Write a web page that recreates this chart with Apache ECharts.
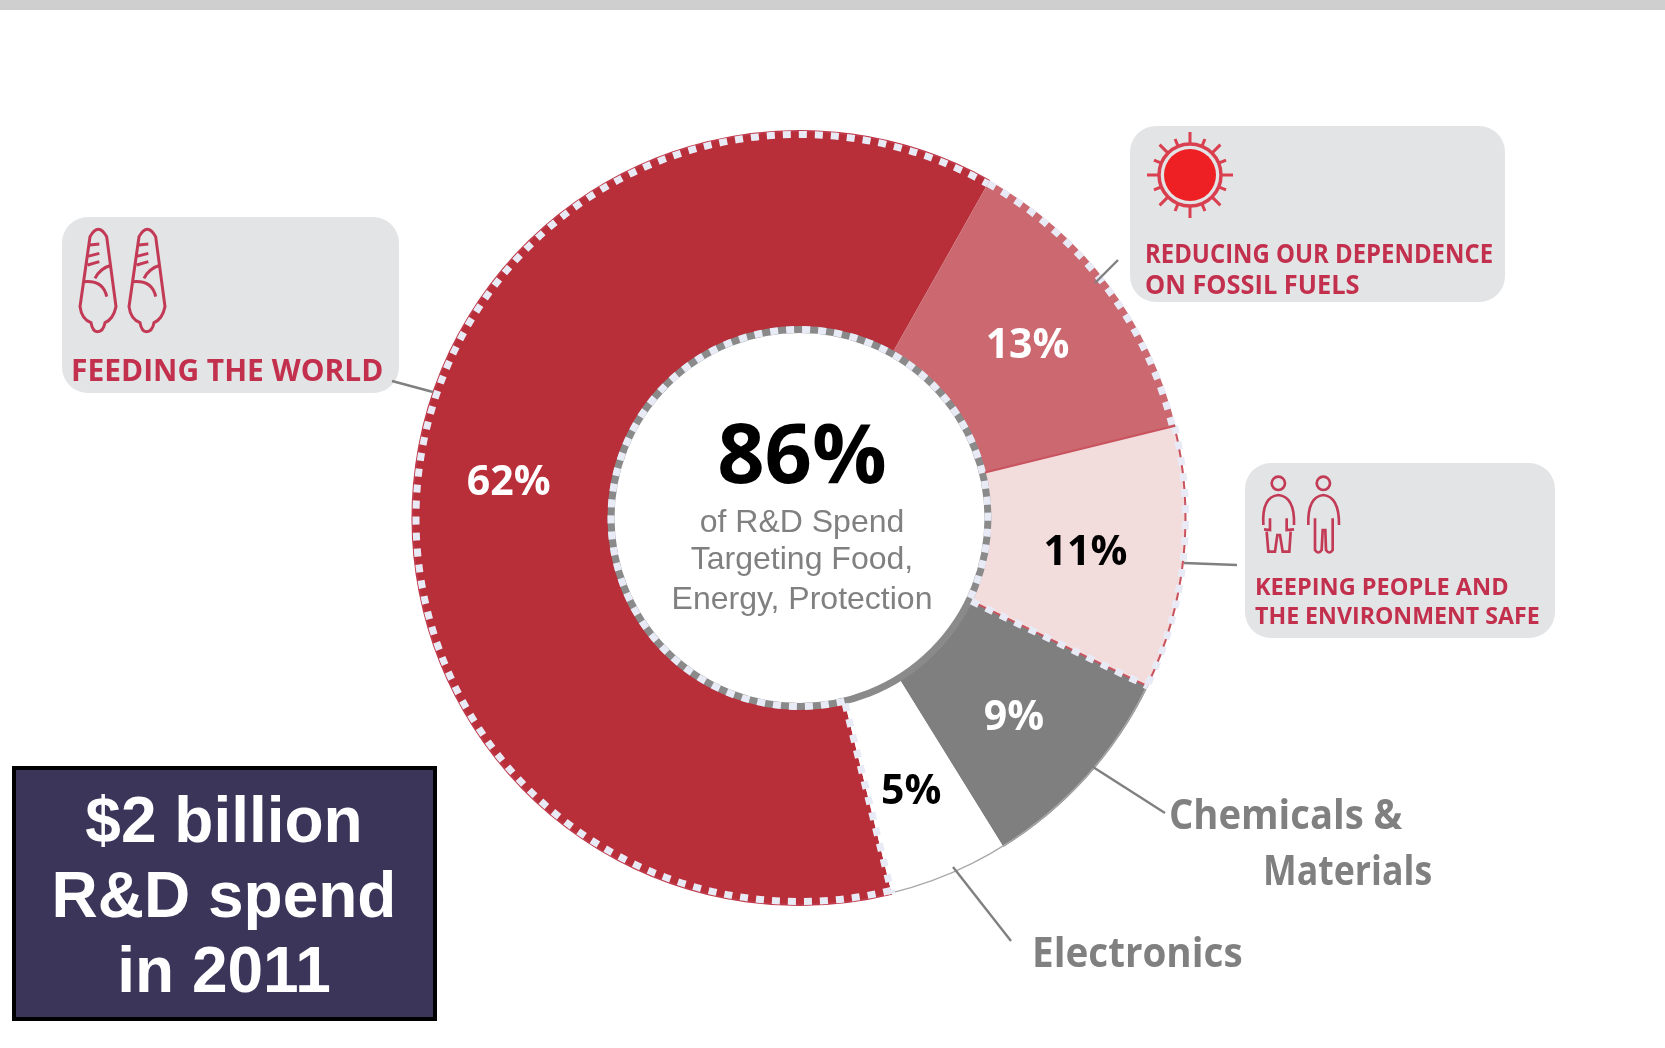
<!DOCTYPE html>
<html><head><meta charset="utf-8">
<script src="https://cdn.jsdelivr.net/npm/echarts@6/dist/echarts.min.js"></script>
<style>html,body{margin:0;padding:0;background:#fff}#c{width:1665px;height:1048px}</style>
</head><body><div id="c"></div>
<script>
const categories = ['Feeding the World','Reducing Our Dependence on Fossil Fuels','Keeping People and the Environment Safe','Chemicals & Materials','Electronics'];
const values = [62,13,11,9,5];
const sliceColors = ['#b82f3a','#cb6870','#f2dcdc','#7f7f7f','#ffffff'];
const labelColors = ['#ffffff','#ffffff','#000000','#ffffff','#000000'];
const labelShiftX = [-1.5,-4.5,-4.5,-2.5,-1.5];
const centerBig = '86%';
const centerLines = ['of R&D Spend','Targeting Food,','Energy, Protection'];
const boxLines = ['$2 billion','R&D spend','in 2011'];

const CX=799.5, CY=518, R0=191, R1=387, START=166.2;
const RED='#c2304d', LAV='#e8ebf6', GREY='#808080';
const bounds=[START]; values.forEach(v=>bounds.push(bounds[bounds.length-1]+v*3.6));
const rad=a=>(a-90)*Math.PI/180;
const pt=(a,r)=>[CX+r*Math.cos(rad(a)),CY+r*Math.sin(rad(a))];
const Z=20;
function arc(r,a,b,stroke,lw,dash){return {type:'arc',z:Z,silent:true,shape:{cx:CX,cy:CY,r:r,startAngle:rad(a),endAngle:rad(b),clockwise:true},style:{fill:null,stroke:stroke,lineWidth:lw,lineDash:dash||null}};}
function seg(a,r0,r1,stroke,lw,dash){const p=pt(a,r0),q=pt(a,r1);return {type:'line',z:Z,silent:true,shape:{x1:p[0],y1:p[1],x2:q[0],y2:q[1]},style:{stroke:stroke,lineWidth:lw,lineDash:dash||null}};}
function lead(x1,y1,x2,y2){return {type:'line',z:Z+1,silent:true,shape:{x1,y1,x2,y2},style:{stroke:'#808080',lineWidth:2.4}};}
function txt(t,x,y,size,weight,family,fill,align,sx){return {type:'text',z:Z+2,silent:true,x:x,y:y,scaleX:sx||1,style:{text:t,x:0,y:0,fill:fill,font:weight+' '+size+'px '+family,textAlign:align||'center',textVerticalAlign:'middle'}};}
function box(x,y,w,h){return {type:'rect',z:Z,silent:true,shape:{x,y,width:w,height:h,r:26},style:{fill:'#e3e4e6'}};}
function icon(d,x,y,s,w){return {type:'path',x:x,y:y,scaleX:s,scaleY:s,shape:{pathData:d},style:{fill:null,stroke:'#c23a55',lineWidth:w||9}};}

const cornPath='M150 110 Q175 65 200 110 L228 320 Q220 358 195 368 Q190 395 172 395 Q158 395 153 368 Q125 358 120 320 Z M140 170 L178 160 M150 135 L178 132 M143 195 L178 185 M132 245 Q190 240 200 290 M165 235 Q180 205 215 195';
const womanPath='M175 80 a20 20 0 1 0 .1 0 Z M130 225 Q125 140 175 135 Q225 140 222 225 M150 205 L150 240 L132 238 M200 205 L200 240 L222 238 M140 245 L145 305 L165 305 L172 255 L180 255 L188 305 L208 305 L212 245';
const manPath='M310 80 a20 20 0 1 0 .1 0 Z M265 225 Q262 140 310 135 Q358 140 357 225 M285 205 L285 300 Q295 315 305 300 L308 240 L316 240 L318 300 Q328 315 338 300 L338 205';

const g=[];
g.push({type:'rect',z:Z,silent:true,shape:{x:0,y:0,width:1665,height:10},style:{fill:'#cfcfcf'}});
// rings around the slices, angles taken from the data
g.push(arc(188.5,0,360,'#8a8a8a',7));
g.push(arc(188.5,bounds[0],bounds[3],LAV,7,[8,8]));
g.push(arc(R1-1,bounds[3],bounds[5],'#a8a8a8',1.5));
g.push(arc(R1,bounds[0],bounds[1],'#c0394a',2));
g.push(arc(R1-1,bounds[2],bounds[3],'#c9535e',2));
g.push(arc(R1-3.5,bounds[0],bounds[1],LAV,7,[8,8]));
g.push(arc(R1-3,bounds[1],bounds[2],LAV,7,[8,8]));
g.push(arc(R1-1,bounds[2],bounds[3],LAV,7,[8,8]));
g.push(seg(bounds[2],R0,R1,'#c9535e',2));
g.push(seg(bounds[3],R0,R1,'#c9535e',2));
g.push(seg(bounds[3],R0,R1,LAV,7,[8,8]));
g.push(seg(bounds[0],R0,R1,LAV,7,[8,8]));
// callout boxes
g.push(box(62,217,337,176),box(1130,126,375,176),box(1245,463,310,175));
// leader lines
g.push(lead(392,381,433,392),lead(1118,260,1095,283),lead(1237,565,1184,563),lead(1093,767,1165,813),lead(953,867,1011,941));
g.push(txt('FEEDING THE WORLD',71,372,31,'700','"Open Sans"',RED,'left',0.966));
g.push(txt('REDUCING OUR DEPENDENCE',1145,255,27,'700','"Open Sans"',RED,'left',0.885));
g.push(txt('ON FOSSIL FUELS',1145,286,27,'700','"Open Sans"',RED,'left',0.94));
g.push(txt('KEEPING PEOPLE AND',1255,588,24,'700','"Open Sans"',RED,'left',0.98));
g.push(txt('THE ENVIRONMENT SAFE',1255,617,24,'700','"Open Sans"',RED,'left',0.965));
// sun icon
const sunX=1190,sunY=175;
g.push({type:'circle',z:Z+1,silent:true,shape:{cx:sunX,cy:sunY,r:26},style:{fill:'#ee2024'}});
g.push({type:'circle',z:Z+1,silent:true,shape:{cx:sunX,cy:sunY,r:31},style:{fill:null,stroke:'#d93f4f',lineWidth:3.5}});
for(let i=0;i<16;i++){const t=i*Math.PI/8,L=i%2?39:43;
  g.push({type:'line',z:Z+1,silent:true,shape:{x1:sunX+31*Math.cos(t),y1:sunY+31*Math.sin(t),x2:sunX+L*Math.cos(t),y2:sunY+L*Math.sin(t)},style:{stroke:'#d93f4f',lineWidth:3}});}
// centre
g.push(txt(centerBig,802,459,83,'700','"Open Sans"','#000'));
[523,560,600].forEach((y,i)=>g.push(txt(centerLines[i],802,y,32,'400','"Liberation Sans"',GREY)));
// outside labels
g.push(txt('Chemicals &',1169,817,42,'700','"Open Sans"',GREY,'left',0.91));
g.push(txt('Materials',1263,873,42,'700','"Open Sans"',GREY,'left',0.85));
g.push(txt('Electronics',1032,955,42,'700','"Open Sans"',GREY,'left',0.92));
// bottom box
g.push({type:'rect',z:Z,silent:true,shape:{x:14,y:768,width:421,height:251},style:{fill:'#3b3659',stroke:'#000',lineWidth:4}});
[824,899,974].forEach((y,i)=>g.push(txt(boxLines[i],224,y,64,'700','"Liberation Sans"','#fff')));

const icons=[icon(cornPath,40,200,1/3),icon(cornPath,89,200,1/3),icon(womanPath,1220,450,1/3,8),icon(manPath,1220,450,1/3,8)];

const chart=echarts.init(document.getElementById('c'),null,{renderer:'canvas'});
chart.setOption({
  animation:false,
  backgroundColor:'#ffffff',
  series:[{
    type:'pie',silent:true,clockwise:true,startAngle:90-START,center:[CX,CY],radius:[R0,R1],
    avoidLabelOverlap:false,
    label:{show:true,position:'inside',formatter:'{c}%',fontFamily:'"Open Sans"',fontWeight:700,fontSize:41},
    labelLine:{show:false},
    data:categories.map((n,i)=>({name:n,value:values[i],itemStyle:{color:sliceColors[i]},label:{color:labelColors[i],offset:[labelShiftX[i],5]}}))
  },{
    type:'custom',coordinateSystem:'none',silent:true,z:50,data:[0],
    renderItem:()=>({type:'group',children:icons})
  }],
  graphic:{elements:g}
});
</script></body></html>
